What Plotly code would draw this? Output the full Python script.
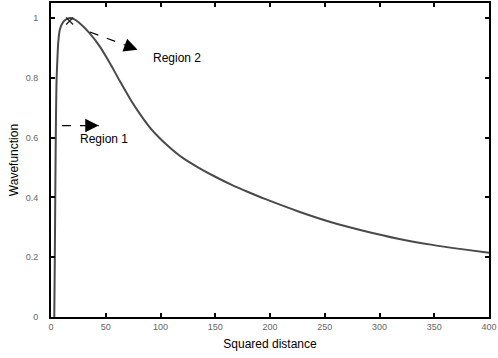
import plotly.graph_objects as go

# Data
sq_dist = [3, 3.5, 4, 4.5, 5, 5.7, 6.6, 8, 10, 13, 17, 21, 26, 35, 44.5, 53.6, 62.7,
           72, 81, 90, 100, 110, 120, 135, 150, 165, 180, 196, 226, 256, 287, 317,
           347, 375, 400]
wavefn = [0, 0.2, 0.45, 0.65, 0.78, 0.85, 0.917, 0.96, 0.98, 0.993, 1.0, 0.996,
          0.983, 0.95, 0.905, 0.85, 0.79, 0.731, 0.68, 0.635, 0.595, 0.562, 0.533,
          0.499, 0.469, 0.442, 0.418, 0.394, 0.353, 0.317, 0.287, 0.262, 0.242,
          0.227, 0.215]
peak_x = [17]
peak_y = [0.99]
x_ticks = [0, 50, 100, 150, 200, 250, 300, 350, 400]
y_ticks = [0, 0.2, 0.4, 0.6, 0.8, 1]
y_tick_text = ["0", "0.2", "0.4", "0.6", "0.8", "1"]
region_labels = ["Region 1", "Region 2"]
arrow1 = {"x0": 10, "y0": 0.64, "x1": 43.6, "y1": 0.64, "tx": 48.5, "ty": 0.595}
arrow2 = {"x0": 35.5, "y0": 0.953, "x1": 79, "y1": 0.894, "tx": 115.5, "ty": 0.867}

fig = go.Figure()
fig.add_trace(go.Scatter(x=sq_dist, y=wavefn, mode="lines",
                         line=dict(color="#4a4a4a", width=2, shape="spline", smoothing=0.8),
                         hoverinfo="skip", showlegend=False))
fig.add_trace(go.Scatter(x=peak_x, y=peak_y, mode="markers",
                         marker=dict(symbol="x-thin", size=7, line=dict(color="#222", width=1.3)),
                         showlegend=False))

for a, lab in zip([arrow1, arrow2], region_labels):
    # dashed shaft
    fig.add_trace(go.Scatter(x=[a["x0"], a["x1"]], y=[a["y0"], a["y1"]], mode="lines",
                             line=dict(color="black", width=1.2, dash="dash"),
                             showlegend=False, hoverinfo="skip"))
    fig.add_annotation(x=a["tx"], y=a["ty"], xref="x", yref="y", text=lab,
                       showarrow=False, font=dict(size=12, color="black",
                                                  family="Liberation Sans, Arial"))

# arrowheads (pixel offsets give the direction of each shaft)
fig.add_annotation(x=arrow1["x1"], y=arrow1["y1"], ax=-12, ay=0, xref="x", yref="y",
                   text="", showarrow=True, arrowhead=2, arrowsize=1.8, arrowwidth=1.5,
                   arrowcolor="black")
fig.add_annotation(x=arrow2["x1"], y=arrow2["y1"], ax=-11, ay=-4, xref="x", yref="y",
                   text="", showarrow=True, arrowhead=2, arrowsize=1.8, arrowwidth=1.5,
                   arrowcolor="black")

axis_common = dict(showline=True, linecolor="black", linewidth=2, mirror="ticks",
                   ticks="inside", ticklen=4, tickwidth=2, tickcolor="black",
                   showgrid=False, zeroline=False,
                   tickfont=dict(size=9, color="#666", family="Liberation Sans, Arial"),
                   title_font=dict(size=12, color="black", family="Liberation Sans, Arial"))

fig.update_xaxes(range=[0, 400], tickvals=x_ticks, title_text="Squared distance",
                 title_standoff=9, **axis_common)
fig.update_yaxes(range=[0, 1.05], tickvals=y_ticks, ticktext=y_tick_text,
                 ticklabelstandoff=9, title_text="Wavefunction", title_standoff=4,
                 **axis_common)

fig.update_layout(width=498, height=358, margin=dict(l=51, r=8, t=1, b=41),
                  paper_bgcolor="white", plot_bgcolor="white")
fig.write_html("out.html")
